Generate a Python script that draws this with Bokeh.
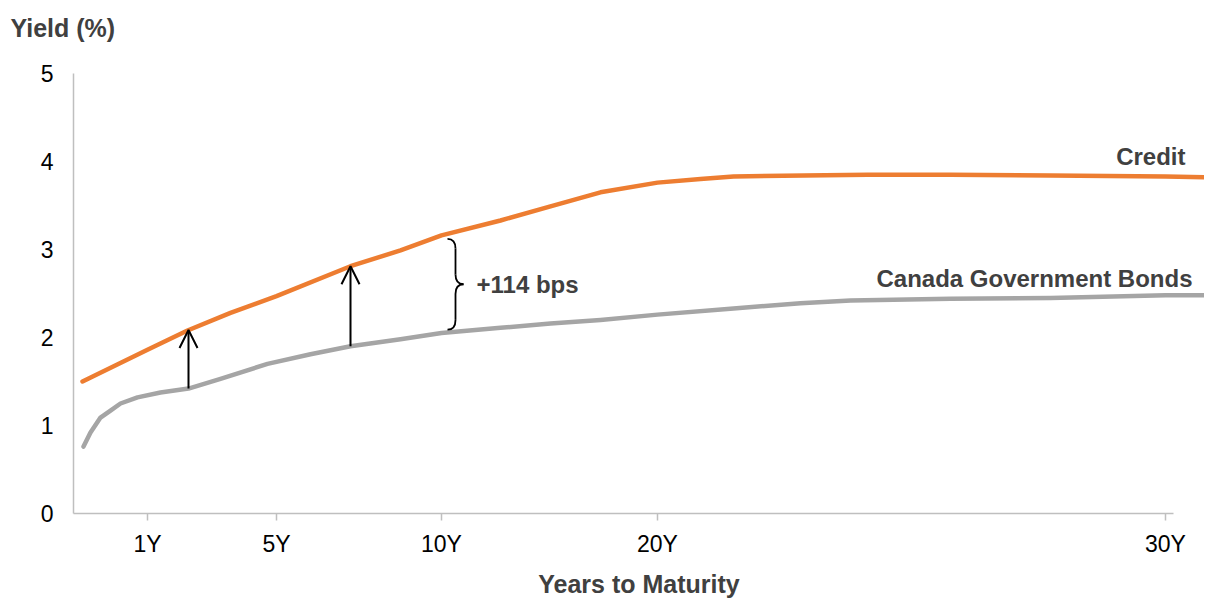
import numpy as np
from bokeh.plotting import figure
from bokeh.models import Range1d, FixedTicker, Label, Arrow, OpenHead, Title
from bokeh.embed import file_html
from bokeh.resources import INLINE

# ---- data (x = position along the maturity axis, y = yield in %) ----
tick_positions = [7.4, 20.3, 36.8, 58.4, 109.2]
tick_labels = ["1Y", "5Y", "10Y", "20Y", "30Y"]
y_ticks = [0, 1, 2, 3, 4, 5]

credit_pos = [0.9, 7.4, 11.4, 15.7, 20.3, 27.7, 32.7, 36.8, 42.7, 47.7, 52.7,
              58.4, 62.7, 66.0, 79.4, 87.7, 97.7, 109.2, 113.2]
credit_yield = [1.50, 1.86, 2.08, 2.28, 2.47, 2.81, 2.99, 3.16, 3.33, 3.49, 3.65,
                3.76, 3.80, 3.83, 3.85, 3.85, 3.84, 3.83, 3.82]

gov_pos = [1.0, 1.7, 2.7, 3.7, 4.7, 6.4, 8.7, 11.5, 14.7, 19.4, 23.7, 27.7, 32.7,
           36.8, 42.7, 47.7, 52.7, 58.4, 66.0, 72.7, 77.7, 87.7, 97.7, 109.2, 113.2]
gov_yield = [0.76, 0.92, 1.09, 1.17, 1.25, 1.32, 1.375, 1.42, 1.53, 1.70, 1.81, 1.90, 1.98,
             2.05, 2.11, 2.16, 2.20, 2.26, 2.33, 2.39, 2.42, 2.44, 2.45, 2.48, 2.48]

arrow_positions = [11.5, 27.7]
spread_at = 36.8          # 10Y
spread_text = "+114 bps"
credit_name = "Credit"
gov_name = "Canada Government Bonds"
y_title = "Yield (%)"
x_title = "Years to Maturity"

FONT = "Liberation Sans"
DARK = "#404040"
AXIS = "#BFBFBF"

p = figure(width=1204, height=601, output_backend="svg", toolbar_location=None,
           x_range=Range1d(0, 113.1), y_range=Range1d(0, 5),
           min_border_left=73, min_border_right=0, min_border_top=73,
           min_border_bottom=88)
p.outline_line_color = None
p.xgrid.visible = False
p.ygrid.visible = False
p.background_fill_color = "white"
p.border_fill_color = "white"

# title with a blank second line, which lifts the visible line towards the top
p.add_layout(Title(text=y_title + "\n ", align="left", offset=-63, standoff=8,
                   text_font=FONT, text_font_size="25px", text_font_style="bold",
                   text_color=DARK), "above")

# lines
p.line(gov_pos, gov_yield, line_color="#A5A5A5", line_width=4.5,
       line_join="round", line_cap="round")
p.line(credit_pos, credit_yield, line_color="#ED7D31", line_width=4.5,
       line_join="round", line_cap="round")

# arrows between curves
for xa in arrow_positions:
    y0 = float(np.interp(xa, gov_pos, gov_yield))
    y1 = float(np.interp(xa, credit_pos, credit_yield))
    p.add_layout(Arrow(x_start=xa, y_start=y0, x_end=xa, y_end=y1,
                       line_color="black", line_width=2,
                       end=OpenHead(size=18, line_color="black", line_width=2)))

# brace at 10Y
top = float(np.interp(spread_at, credit_pos, credit_yield)) - 0.04
bot = float(np.interp(spread_at, gov_pos, gov_yield)) + 0.04
mid = (top + bot) / 2
xb = spread_at + 0.6
w = 0.8
r = 0.11
bc = dict(line_color="black", line_width=1.8)
p.quadratic(x0=[xb], y0=[top], x1=[xb + w], y1=[top - r], cx=[xb + w], cy=[top], **bc)
p.segment(x0=[xb + w], y0=[top - r], x1=[xb + w], y1=[mid + r], **bc)
p.quadratic(x0=[xb + w], y0=[mid + r], x1=[xb + 2 * w], y1=[mid], cx=[xb + w], cy=[mid], **bc)
p.quadratic(x0=[xb + 2 * w], y0=[mid], x1=[xb + w], y1=[mid - r], cx=[xb + w], cy=[mid], **bc)
p.segment(x0=[xb + w], y0=[mid - r], x1=[xb + w], y1=[bot + r], **bc)
p.quadratic(x0=[xb + w], y0=[bot + r], x1=[xb], y1=[bot], cx=[xb + w], cy=[bot], **bc)

p.add_layout(Label(x=spread_at + 3.5, y=mid, text=spread_text, text_font=FONT,
                   text_font_size="24px", text_font_style="bold", text_color=DARK,
                   text_align="left", text_baseline="middle"))

# series names
p.add_layout(Label(x=111.2, y=4.06, text=credit_name, text_font=FONT,
                   text_font_size="24px", text_font_style="bold", text_color=DARK,
                   text_align="right", text_baseline="middle"))
p.add_layout(Label(x=111.9, y=2.67, text=gov_name, text_font=FONT,
                   text_font_size="24px", text_font_style="bold", text_color=DARK,
                   text_align="right", text_baseline="middle"))

# y axis
ya = p.yaxis[0]
ya.ticker = FixedTicker(ticks=y_ticks)
ya.major_tick_line_color = None
ya.minor_tick_line_color = None
ya.major_tick_out = 0
ya.major_tick_in = 0
ya.major_label_standoff = 20
ya.axis_line_color = AXIS
ya.axis_line_width = 1.5
ya.major_label_text_font = FONT
ya.major_label_text_font_size = "23px"
ya.major_label_text_color = "black"

# x axis
xa_ = p.xaxis[0]
xa_.ticker = FixedTicker(ticks=tick_positions)
xa_.major_label_overrides = {t: l for t, l in zip(tick_positions, tick_labels)}
xa_.bounds = (0, 110)
xa_.axis_line_color = AXIS
xa_.axis_line_width = 1.5
xa_.major_tick_line_color = AXIS
xa_.major_tick_line_width = 1.5
xa_.major_tick_out = 7
xa_.major_tick_in = 0
xa_.minor_tick_line_color = None
xa_.major_label_standoff = 10
xa_.major_label_text_font = FONT
xa_.major_label_text_font_size = "23px"
xa_.major_label_text_color = "black"
xa_.axis_label = x_title
xa_.axis_label_standoff = 10
xa_.axis_label_text_font = FONT
xa_.axis_label_text_font_size = "25px"
xa_.axis_label_text_font_style = "bold"
xa_.axis_label_text_color = DARK

open("out.html", "w").write(file_html(p, INLINE))
